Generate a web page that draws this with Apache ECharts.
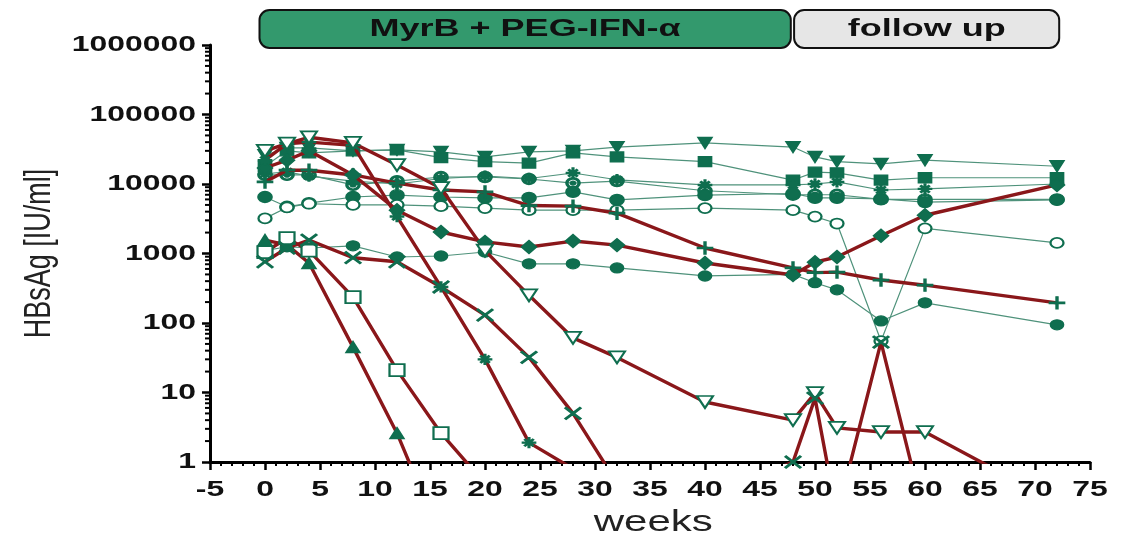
<!DOCTYPE html>
<html>
<head>
<meta charset="utf-8">
<title>HBsAg</title>
<script src="https://cdn.jsdelivr.net/npm/echarts@6/dist/echarts.min.js"></script>
<style>
  html, body { margin: 0; padding: 0; background: #fff; }
  #main { width: 1135px; height: 539px; }
</style>
</head>
<body>
<div id="main"></div>
<script>
// time points (weeks)
const weeks = [0, 2, 4, 8, 12, 16, 20, 24, 28, 32, 40, 48, 50, 52, 56, 60, 72];
const xTicks = [-5, 0, 5, 10, 15, 20, 25, 30, 35, 40, 45, 50, 55, 60, 65, 70, 75];
const yTicks = [1, 10, 100, 1000, 10000, 100000, 1000000];

// green (thin) patients
const gTriDown = [26000, 33000, 33000, 30000, 31000, 29000, 24500, 29000, 30000, 34000, 39000, 34000, 24500, 21000, 19500, 22000, 18000];
const gSquare = [18000, 30000, 28000, 30000, 31000, 24000, 21000, 20000, 28000, 24500, 21000, 11400, 14800, 14500, 11400, 12300, 12300];
const gStar = [14000, 15000, 13000, 11000, 10000, 12000, 13000, 12000, 14400, 11500, 9700, 9700, 10000, 10700, 8200, 8500, 10000];
const gRing = [13500, 13500, 13500, 9700, 11000, 12600, 12600, 11800, 10300, 11000, 8000, 7000, 7000, 7000, 6000, 6000, 6000];
const gDot1 = [6500, 4700, 5300, 6500, 6900, 6500, 6300, 6300, 7700, 5900, 6900, 7300, 6300, 6300, 6100, 5500, 5900];
const gOpen = [3200, 4600, 5200, 5000, 5000, 4800, 4500, 4200, 4200, 4200, 4500, 4200, 3400, 2700, 55, 2300, 1420];
const gDot2 = [1100, 1250, 1200, 1290, 890, 920, 1050, 710, 710, 620, 475, 500, 380, 300, 107, 195, 94];

// red (thick) patients
const rPlus = [10700, 15800, 15800, 13500, 10300, 8200, 7700, 4900, 4800, 3800, 1200, 620, 530, 540, 415, 350, 195];
const rDiamond = [17000, 22000, 30000, 13500, 4200, 2040, 1470, 1240, 1510, 1320, 730, 490, 750, 890, 1800, 3550, 9700];
const rStar = [22000, 38000, 40000, 36000, 3400, 330, 30, 1.9, 0.8, null, null, null, null, null, null, null, null];
const rTriOpen = [30000, 38000, 47000, 39000, 18700, 8700, 1100, 250, 61, 32, 7.3, 4.0, 9.8, 3.1, 2.7, 2.7, 0.26];
const rTriUp = [1560, 1330, 730, 45, 2.6, 0.08, null, null, null, null, null, null, null, null, null, null, null];
const rSquare = [1050, 1660, 1100, 236, 21, 2.6, 0.49, null, null, null, null, null, null, null, null, null, null];
const rCross = [760, 1200, 1560, 870, 760, 330, 130, 32, 5, 0.5, 0.3, 1, 8.3, 0.17, 53, 0.15, null];

const GREEN_LINE = '#4f927b';
const GREEN_MARK = '#0f6e4f';
const RED_LINE = '#8a171a';
const FONT = 'Liberation Sans';
const STRETCH = 1.45; // the original picture is widened

const SYM = {
  ring: 'path://M0,-10A10,10 0 1,1 0,10A10,10 0 1,1 0,-10Z M0,-7.5A7.5,7.5 0 1,0 0,7.5A7.5,7.5 0 1,0 0,-7.5Z M0,-3.5A3.5,3.5 0 1,1 0,3.5A3.5,3.5 0 1,1 0,-3.5Z',
  star: 'path://M-1,-9H1V9H-1Z M-9,-1H9V1H-9Z M-6.4,-5L-5,-6.4L6.4,5L5,6.4Z M-6.4,5L5,-6.4L6.4,-5L-5,6.4Z',
  cross: 'path://M-7,-6L-6,-7L0,-1L6,-7L7,-6L1,0L7,6L6,7L0,1L-6,7L-7,6L-1,0Z',
  plus: 'path://M-0.8,-7H0.8V-0.8H7V0.8H0.8V7H-0.8V0.8H-7V-0.8H-0.8Z'
};

function pairs(vals) {
  const out = [];
  vals.forEach((v, i) => { if (v !== null) out.push([weeks[i], v]); });
  return out;
}

function green(name, vals, symbol, size, rotate) {
  return {
    name: name, type: 'line', data: pairs(vals), z: 2,
    symbol: symbol, symbolSize: size, symbolRotate: rotate || 0,
    lineStyle: { color: GREEN_LINE, width: 1.2 },
    itemStyle: { color: GREEN_MARK, borderColor: GREEN_MARK, borderWidth: 1.5 },
    emphasis: { disabled: true }
  };
}

function red(name, vals, symbol, size, rotate) {
  return {
    name: name, type: 'line', data: pairs(vals), z: 4,
    symbol: symbol, symbolSize: size, symbolRotate: rotate || 0,
    lineStyle: { color: RED_LINE, width: 3.4 },
    itemStyle: { color: GREEN_MARK, borderColor: GREEN_MARK, borderWidth: 1.5 },
    emphasis: { disabled: true }
  };
}

const chart = echarts.init(document.getElementById('main'), null, { renderer: 'canvas' });

chart.setOption({
  animation: false,
  backgroundColor: '#fff',
  grid: { left: 210, right: 45, top: 45, bottom: 77, outerBoundsMode: 'none', containLabel: false },
  xAxis: {
    type: 'value', min: -5, max: 75, interval: 5,
    axisLine: { onZero: false, lineStyle: { color: '#000', width: 3 } },
    axisTick: { length: 8, lineStyle: { width: 2.5, color: '#000' } },
    minorTick: { show: true, splitNumber: 5, length: 4, lineStyle: { width: 2, color: '#000' } },
    splitLine: { show: false },
    axisLabel: { show: false }
  },
  yAxis: {
    type: 'log', logBase: 10, min: 1, max: 1000000,
    axisLine: { onZero: false, lineStyle: { color: '#000', width: 3 } },
    axisTick: { length: 8, lineStyle: { width: 2.5, color: '#000' }, customValues: yTicks },
    splitLine: { show: false },
    axisLabel: { show: false }
  },
  series: [
    green('g1', gTriDown, 'triangle', [14, 11], 180),
    green('g2', gSquare, 'rect', [13, 10]),
    green('g3', gStar, SYM.star, [13, 10]),
    green('g4', gRing, SYM.ring, [14, 11]),
    green('g5', gDot1, 'circle', [14, 11]),
    green('g6', gOpen, 'emptyCircle', [13, 10]),
    green('g7', gDot2, 'circle', [13, 10]),
    red('r1', rPlus, SYM.plus, [15, 12]),
    red('r2', rDiamond, 'diamond', [15, 13]),
    red('r3', rStar, SYM.star, [13, 10]),
    red('r4', rTriOpen, 'emptyTriangle', [16, 12], 180),
    red('r5', rTriUp, 'triangle', [14, 11]),
    red('r6', rSquare, 'emptyRect', [15, 12]),
    red('r7', rCross, SYM.cross, [16, 12])
  ]
});

// tick labels, names, minor log ticks and the treatment bars, placed from the axes
const px = v => chart.convertToPixel({ xAxisIndex: 0 }, v);
const py = v => chart.convertToPixel({ yAxisIndex: 0 }, v);
const axisX = px(-5);
const axisY = py(1);
const extra = [];

for (let d = 1; d < 1000000; d *= 10) {
  for (let m = 2; m <= 9; m++) {
    const y = py(d * m);
    extra.push({
      type: 'line', silent: true,
      shape: { x1: axisX - 5, y1: y, x2: axisX, y2: y },
      style: { stroke: '#000', lineWidth: 2 }
    });
  }
}

yTicks.forEach(v => {
  extra.push({
    type: 'text', x: axisX - 14, y: py(v), scaleX: STRETCH,
    style: { text: String(v), font: 'bold 22px "' + FONT + '"', fill: '#111', align: 'right', verticalAlign: 'middle' }
  });
});
xTicks.forEach(v => {
  extra.push({
    type: 'text', x: px(v), y: axisY + 28, scaleX: STRETCH,
    style: { text: String(v), font: 'bold 22px "' + FONT + '"', fill: '#111', align: 'center', verticalAlign: 'middle' }
  });
});

extra.push({
  type: 'text', x: px(35.3), y: axisY + 61, scaleX: STRETCH,
  style: { text: 'weeks', font: '29px "' + FONT + '"', fill: '#222', align: 'center', verticalAlign: 'middle' }
});
extra.push({
  type: 'text', x: 40, y: (py(1) + py(1000000)) / 2, rotation: Math.PI / 2, scaleY: 1.4,
  style: { text: 'HBsAg [IU/ml]', font: '27px "' + FONT + '"', fill: '#222', align: 'center', verticalAlign: 'middle' }
});

const x0 = px(-0.5);
const x48 = px(47.8);
const x48b = px(48.1);
const x72 = px(72.2);
extra.push({
  type: 'rect', shape: { x: x0, y: 10, width: x48 - x0, height: 38, r: 10 },
  style: { fill: '#33996d', stroke: '#111', lineWidth: 2 }
});
extra.push({
  type: 'text', x: (x0 + x48) / 2, y: 29, scaleX: 1.5,
  style: { text: 'MyrB + PEG-IFN-α', font: 'bold 24px "' + FONT + '"', fill: '#111', align: 'center', verticalAlign: 'middle' }
});
extra.push({
  type: 'rect', shape: { x: x48b, y: 10, width: x72 - x48b, height: 38, r: 10 },
  style: { fill: '#e6e6e6', stroke: '#111', lineWidth: 2 }
});
extra.push({
  type: 'text', x: (x48b + x72) / 2, y: 29, scaleX: 1.5,
  style: { text: 'follow up', font: 'bold 24px "' + FONT + '"', fill: '#111', align: 'center', verticalAlign: 'middle' }
});
chart.setOption({ graphic: extra });
</script>
</body>
</html>
